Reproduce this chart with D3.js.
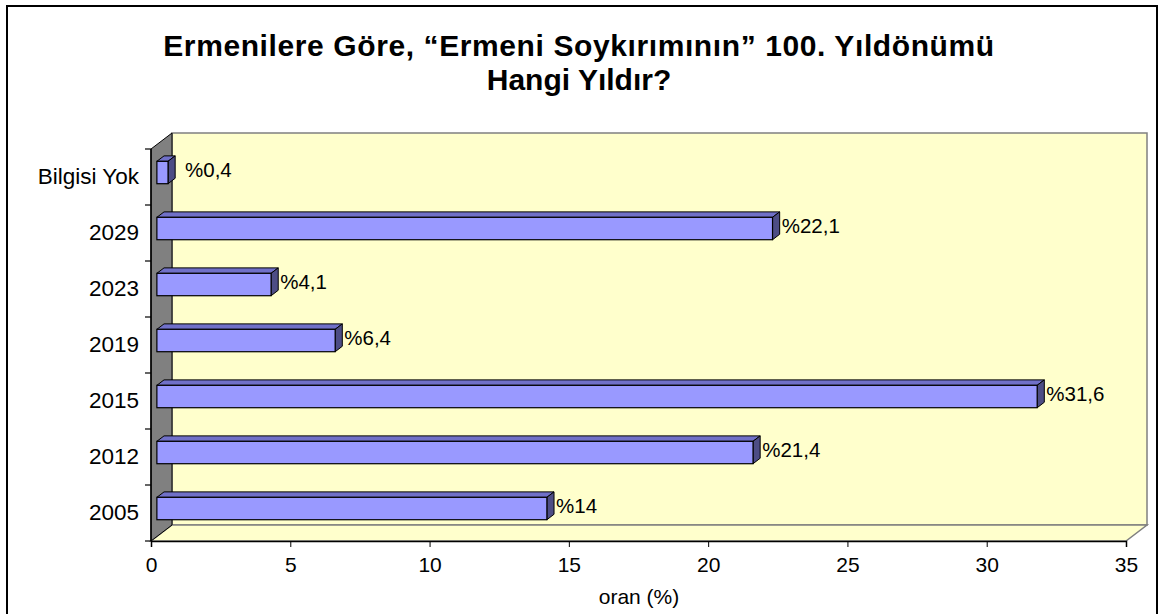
<!DOCTYPE html>
<html>
<head>
<meta charset="utf-8">
<script src="https://cdn.jsdelivr.net/npm/d3@7"></script>
<style>
  body { margin: 0; background: #fff; }
  svg { font-family: Arial, "Liberation Sans", sans-serif; }
</style>
</head>
<body>
<svg id="chart" width="1160" height="614"></svg>
<script>
// chart values, top to bottom as shown
var categories = ["Bilgisi Yok", "2029", "2023", "2019", "2015", "2012", "2005"];
var values = [0.4, 22.1, 4.1, 6.4, 31.6, 21.4, 14];
var valueLabels = ["%0,4", "%22,1", "%4,1", "%6,4", "%31,6", "%21,4", "%14"];
var xTicks = [0, 5, 10, 15, 20, 25, 30, 35];
var titleLines = ["Ermenilere Göre, “Ermeni Soykırımının” 100. Yıldönümü", "Hangi Yıldır?"];

var svg = d3.select("#chart");

// plot frame (front plane) and 3d depth
var plotLeft = 151, plotRight = 1126, plotTop = 149, plotBottom = 541;
var depth = {x: 21, y: -16};
var barFront = 0.28, barBack = 0.62;

var x = d3.scaleLinear()
    .domain([0, 35])
    .range([plotLeft, plotRight]);

var y = d3.scaleBand()
    .domain(categories)
    .range([plotTop, plotBottom])
    .paddingInner(0.6)
    .paddingOuter(0.3);

// outer frame
svg.append("rect")
    .attr("x", 7).attr("y", 6)
    .attr("width", 1150).attr("height", 620)
    .attr("fill", "none")
    .attr("stroke", "#000")
    .attr("stroke-width", 2);

// title
svg.append("text")
    .attr("x", 579)
    .attr("y", 56)
    .attr("text-anchor", "middle")
    .attr("font-size", 30)
    .attr("font-weight", "bold")
    .selectAll("tspan")
    .data(titleLines)
    .enter()
    .append("tspan")
    .attr("x", 579)
    .attr("dy", function (d, i) { return i === 0 ? 0 : 34; })
    .attr("letter-spacing", function (d, i) { return i === 0 ? 0.6 : 0; })
    .text(function (d) { return d; });

function pts(arr) {
    return arr.map(function (p) { return p[0] + "," + p[1]; }).join(" ");
}

// back wall
svg.append("rect")
    .attr("x", plotLeft + depth.x)
    .attr("y", plotTop + depth.y)
    .attr("width", plotRight - plotLeft)
    .attr("height", plotBottom - plotTop)
    .attr("fill", "#FFFFCC")
    .attr("stroke", "#808080")
    .attr("stroke-width", 1.5);

// floor
svg.append("polygon")
    .attr("points", pts([[plotLeft, plotBottom], [plotRight, plotBottom], [plotRight + depth.x, plotBottom + depth.y], [plotLeft + depth.x, plotBottom + depth.y]]))
    .attr("fill", "#FFFFCC")
    .attr("stroke", "#808080")
    .attr("stroke-width", 1.5);

// side wall
svg.append("polygon")
    .attr("points", pts([[plotLeft, plotTop], [plotLeft + depth.x, plotTop + depth.y], [plotLeft + depth.x, plotBottom + depth.y], [plotLeft, plotBottom]]))
    .attr("fill", "#808080")
    .attr("stroke", "#000")
    .attr("stroke-width", 1);

// bars
var bars = svg.selectAll(".bars")
    .data(categories)
    .enter()
    .append("g")
    .attr("class", "bars");

var fx = depth.x * barFront, fy = depth.y * barFront;
var bx = depth.x * barBack, by = depth.y * barBack;

// top face
bars.append("polygon")
    .attr("points", function (d, i) {
        var x0 = x(0) + fx, x1 = x(values[i]) + fx, y0 = y(d) + fy;
        return pts([[x0, y0], [x0 + bx - fx, y0 + by - fy], [x1 + bx - fx, y0 + by - fy], [x1, y0]]);
    })
    .attr("fill", "#7070C8")
    .attr("stroke", "#000")
    .attr("stroke-width", 1);

// end face
bars.append("polygon")
    .attr("points", function (d, i) {
        var x1 = x(values[i]) + fx, y0 = y(d) + fy, y1 = y0 + y.bandwidth();
        return pts([[x1, y0], [x1 + bx - fx, y0 + by - fy], [x1 + bx - fx, y1 + by - fy], [x1, y1]]);
    })
    .attr("fill", "#4D4D85")
    .attr("stroke", "#000")
    .attr("stroke-width", 1);

// front face
bars.append("rect")
    .attr("x", x(0) + fx)
    .attr("y", function (d) { return y(d) + fy; })
    .attr("width", function (d, i) { return x(values[i]) - x(0); })
    .attr("height", y.bandwidth())
    .attr("fill", "#9999FF")
    .attr("stroke", "#000")
    .attr("stroke-width", 1.2);

bars.append("text")
    .attr("x", function (d, i) { return Math.max(x(values[i]) + bx + 2, 185); })
    .attr("y", function (d) { return y(d) + y.bandwidth() / 2 + (fy + by) / 2; })
    .attr("dy", "0.35em")
    .attr("font-size", 20.5)
    .text(function (d, i) { return valueLabels[i]; });

// x axis
var xAxis = d3.axisBottom(x)
    .tickValues(xTicks)
    .tickSize(6)
    .tickPadding(10);

var gx = svg.append("g")
    .attr("transform", "translate(0," + plotBottom + ")")
    .call(xAxis);
gx.select(".domain").attr("stroke", "#000").attr("stroke-width", 1.5);
gx.selectAll("text").attr("font-size", 21).attr("fill", "#000").attr("font-family", null);

// y axis, labels at band centres and ticks at band edges
var yAxis = d3.axisLeft(y)
    .tickSize(0)
    .tickPadding(12);

var gy = svg.append("g")
    .attr("transform", "translate(" + plotLeft + ",0)")
    .call(yAxis);
gy.select(".domain").attr("stroke", "#000").attr("stroke-width", 1.5).attr("d", "M0," + plotTop + "V" + plotBottom);
gy.selectAll("text").attr("font-size", 22.5).attr("fill", "#000").attr("font-family", null);

gy.selectAll(".edge")
    .data(d3.range(categories.length + 1))
    .enter()
    .append("line")
    .attr("class", "edge")
    .attr("x1", -6).attr("x2", 0)
    .attr("y1", function (i) { return plotTop + i * y.step(); })
    .attr("y2", function (i) { return plotTop + i * y.step(); })
    .attr("stroke", "#000")
    .attr("stroke-width", 1.2);

// axis title
svg.append("text")
    .attr("x", 639)
    .attr("y", 604)
    .attr("text-anchor", "middle")
    .attr("font-size", 21)
    .text("oran (%)");
</script>
</body>
</html>
